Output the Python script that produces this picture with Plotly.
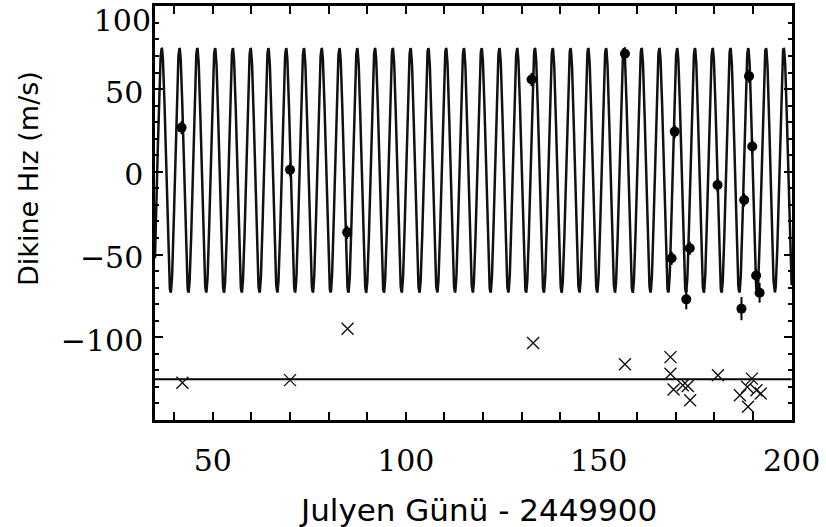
import numpy as np
import plotly.graph_objects as go

# Orbital fit parameters
period_days = 4.606
amplitude = 73.8
offset = 0.9
peak_day = 36.74

# Filled circles (velocity measurements)
obs_day = [41.9, 70.0, 84.8, 132.6, 156.8, 169.7, 180.8, 188.96, 189.8, 187.7,
           168.9, 173.6, 172.7, 187.0, 190.8, 191.7]
obs_vel = [26.7, 1.2, -36.6, 55.8, 71.3, 24.3, -8.0, 57.8, 15.3, -17.0,
           -52.2, -46.2, -77.1, -82.7, -62.7, -73.1]
obs_err = [4, 4, 4, 4, 4, 4, 4, 4, 4, 4, 4, 4, 6, 7, 4, 6]

# Crosses (residuals)
res_day = [42.1, 70.0, 84.9, 133.0, 156.8, 168.6, 168.6, 169.4, 171.8, 173.1, 173.7,
           180.9, 186.6, 188.5, 189.7, 190.9, 192.0, 188.7]
res_vel = [-127.5, -125.9, -94.8, -103.4, -116.3, -112.0, -122.0, -131.5, -129.0, -129.5, -138.0,
           -122.9, -135.0, -130.0, -125.0, -132.0, -134.0, -142.0]

baseline = -125.3

x_range = [35, 200.1]
y_range = [-150, 100.2]
x_ticks = [50, 100, 150, 200]
y_ticks = [-100, -50, 0, 50]
y_top_tick = [100]

t = np.linspace(35, 200, 4000)
v = offset + amplitude * np.cos(2 * np.pi * (t - peak_day) / period_days)

fig = go.Figure()
fig.add_trace(go.Scatter(x=t, y=v, mode="lines",
                         line=dict(color="#111", width=2.5), hoverinfo="skip"))
fig.add_trace(go.Scatter(x=[35, 200], y=[baseline, baseline], mode="lines",
                         line=dict(color="black", width=2)))
fig.add_trace(go.Scatter(x=obs_day, y=obs_vel, mode="markers",
                         marker=dict(color="black", size=10, symbol="circle"),
                         error_y=dict(type="data", array=obs_err, color="black",
                                      thickness=2, width=0)))
fig.add_trace(go.Scatter(x=res_day, y=res_vel, mode="markers",
                         marker=dict(color="#111", size=12, symbol="x-thin-open",
                                     line=dict(color="#111", width=1.4))))
# invisible trace to carry the overlay axis holding the top tick label
fig.add_trace(go.Scatter(x=[None], y=[None], yaxis="y2", mode="markers",
                         hoverinfo="skip"))

tickfont = dict(family="DejaVu Serif", size=30, color="black")
fig.update_xaxes(range=x_range, tickvals=x_ticks, ticks="inside", ticklen=8, tickwidth=2,
                 minor=dict(dtick=10, ticks="inside", ticklen=4, tickwidth=1.5, tickcolor="black"),
                 showline=True, linewidth=2.5, linecolor="black", mirror="allticks",
                 showgrid=False, zeroline=False, tickfont=tickfont, tickcolor="black",
                 ticklabelstandoff=12, automargin=False)
fig.update_layout(
    yaxis=dict(range=y_range, tickvals=y_ticks,
               ticks="inside", ticklen=8, tickwidth=2,
               minor=dict(dtick=10, ticks="inside", ticklen=4, tickwidth=1.5, tickcolor="black"),
               showline=True, linewidth=2.5, linecolor="black", mirror="allticks",
               showgrid=False, zeroline=False, tickfont=tickfont, tickcolor="black",
               ticklabelstandoff=3, ticklabelshift=3, automargin=False),
    yaxis2=dict(range=y_range, overlaying="y", side="left", tickvals=y_top_tick,
                ticks="inside", ticklen=8, tickwidth=2, tickcolor="rgba(0,0,0,0)",
                showline=False, showgrid=False, zeroline=False,
                tickfont=tickfont, ticklabelstandoff=3, ticklabelshift=14,
                ticklabeloverflow="allow", automargin=False),
)

fig.add_annotation(text="Julyen Günü - 2449900", xref="paper", yref="paper",
                   x=(478 - 155) / 637, y=-(510 - 420) / 414, showarrow=False,
                   xanchor="center", yanchor="middle",
                   font=dict(family="DejaVu Sans", size=31, color="black"))
fig.add_annotation(text="Dikine Hız (m/s)", xref="paper", yref="paper",
                   x=-(155 - 28) / 637, y=(420 - 179) / 414, showarrow=False, textangle=-90,
                   xanchor="center", yanchor="middle",
                   font=dict(family="DejaVu Sans", size=27, color="black"))

fig.update_layout(width=826, height=527, showlegend=False,
                  plot_bgcolor="white", paper_bgcolor="white",
                  margin=dict(l=155, r=34, t=6, b=107))
fig.write_html("out.html", config={"displayModeBar": False},
               post_script="document.body.style.margin='0';document.body.style.overflow='hidden';")
